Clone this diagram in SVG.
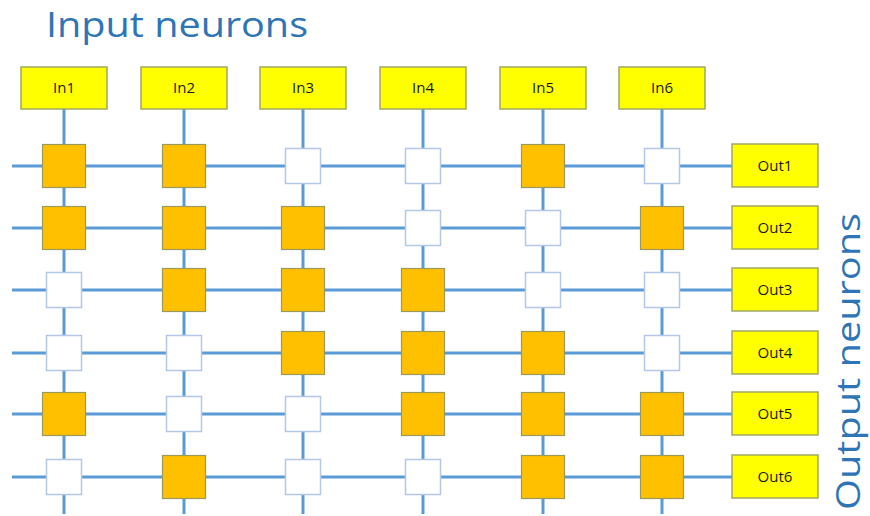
<svg xmlns="http://www.w3.org/2000/svg" width="870" height="516" viewBox="0 0 870 516">
<style>
.ln{stroke:#5B9BD5;stroke-width:3;fill:none}
.io{fill:#FFFF00;stroke:#A0A860;stroke-width:1.5}
.lbl{font-family:"Open Sans","Liberation Sans",sans-serif;font-size:15px;fill:#1a1a1a;text-anchor:middle}
.on{fill:#FFC000;stroke:#9C9A5A;stroke-width:1.2}
.off{fill:#FFFFFF;stroke:#B4C7E7;stroke-width:1.5}
.title{font-family:"Open Sans","Liberation Sans",sans-serif;fill:#2E75B6}
</style>
<rect width="870" height="516" fill="#FFFFFF"/>
<text class="title" x="46" y="37" font-size="34" textLength="262" lengthAdjust="spacingAndGlyphs">Input neurons</text>
<text class="title" transform="translate(860,510) rotate(-90)" x="0" y="0" font-size="33" textLength="297" lengthAdjust="spacingAndGlyphs">Output neurons</text>
<g id="connectors">
<path class="ln" d="M64 109V514M184 109V514M303 109V514M423 109V514M543 109V514M662 109V514"/>
<path class="ln" d="M12 166H732M12 228H732M12 290H732M12 353H732M12 414H732M12 477H732"/>
</g>
<g id="in1"><rect class="io" x="21" y="67" width="86" height="42"/><text class="lbl" x="64" y="93">In1</text></g>
<g id="in2"><rect class="io" x="141" y="67" width="86" height="42"/><text class="lbl" x="184" y="93">In2</text></g>
<g id="in3"><rect class="io" x="260" y="67" width="86" height="42"/><text class="lbl" x="303" y="93">In3</text></g>
<g id="in4"><rect class="io" x="380" y="67" width="86" height="42"/><text class="lbl" x="423" y="93">In4</text></g>
<g id="in5"><rect class="io" x="500" y="67" width="86" height="42"/><text class="lbl" x="543" y="93">In5</text></g>
<g id="in6"><rect class="io" x="619" y="67" width="86" height="42"/><text class="lbl" x="662" y="93">In6</text></g>
<g id="out1"><rect class="io" x="732" y="144" width="86" height="43"/><text class="lbl" x="775" y="171">Out1</text></g>
<g id="out2"><rect class="io" x="732" y="206" width="86" height="43"/><text class="lbl" x="775" y="233">Out2</text></g>
<g id="out3"><rect class="io" x="732" y="268" width="86" height="43"/><text class="lbl" x="775" y="295">Out3</text></g>
<g id="out4"><rect class="io" x="732" y="331" width="86" height="43"/><text class="lbl" x="775" y="358">Out4</text></g>
<g id="out5"><rect class="io" x="732" y="392" width="86" height="43"/><text class="lbl" x="775" y="419">Out5</text></g>
<g id="out6"><rect class="io" x="732" y="455" width="86" height="43"/><text class="lbl" x="775" y="482">Out6</text></g>
<g id="synapses">
<rect class="on" x="42.5" y="144.5" width="43" height="43"/>
<rect class="on" x="162.5" y="144.5" width="43" height="43"/>
<rect class="off" x="285.5" y="148.5" width="35" height="35"/>
<rect class="off" x="405.5" y="148.5" width="35" height="35"/>
<rect class="on" x="521.5" y="144.5" width="43" height="43"/>
<rect class="off" x="644.5" y="148.5" width="35" height="35"/>
<rect class="on" x="42.5" y="206.5" width="43" height="43"/>
<rect class="on" x="162.5" y="206.5" width="43" height="43"/>
<rect class="on" x="281.5" y="206.5" width="43" height="43"/>
<rect class="off" x="405.5" y="210.5" width="35" height="35"/>
<rect class="off" x="525.5" y="210.5" width="35" height="35"/>
<rect class="on" x="640.5" y="206.5" width="43" height="43"/>
<rect class="off" x="46.5" y="272.5" width="35" height="35"/>
<rect class="on" x="162.5" y="268.5" width="43" height="43"/>
<rect class="on" x="281.5" y="268.5" width="43" height="43"/>
<rect class="on" x="401.5" y="268.5" width="43" height="43"/>
<rect class="off" x="525.5" y="272.5" width="35" height="35"/>
<rect class="off" x="644.5" y="272.5" width="35" height="35"/>
<rect class="off" x="46.5" y="335.5" width="35" height="35"/>
<rect class="off" x="166.5" y="335.5" width="35" height="35"/>
<rect class="on" x="281.5" y="331.5" width="43" height="43"/>
<rect class="on" x="401.5" y="331.5" width="43" height="43"/>
<rect class="on" x="521.5" y="331.5" width="43" height="43"/>
<rect class="off" x="644.5" y="335.5" width="35" height="35"/>
<rect class="on" x="42.5" y="392.5" width="43" height="43"/>
<rect class="off" x="166.5" y="396.5" width="35" height="35"/>
<rect class="off" x="285.5" y="396.5" width="35" height="35"/>
<rect class="on" x="401.5" y="392.5" width="43" height="43"/>
<rect class="on" x="521.5" y="392.5" width="43" height="43"/>
<rect class="on" x="640.5" y="392.5" width="43" height="43"/>
<rect class="off" x="46.5" y="459.5" width="35" height="35"/>
<rect class="on" x="162.5" y="455.5" width="43" height="43"/>
<rect class="off" x="285.5" y="459.5" width="35" height="35"/>
<rect class="off" x="405.5" y="459.5" width="35" height="35"/>
<rect class="on" x="521.5" y="455.5" width="43" height="43"/>
<rect class="on" x="640.5" y="455.5" width="43" height="43"/>
</g>
</svg>
